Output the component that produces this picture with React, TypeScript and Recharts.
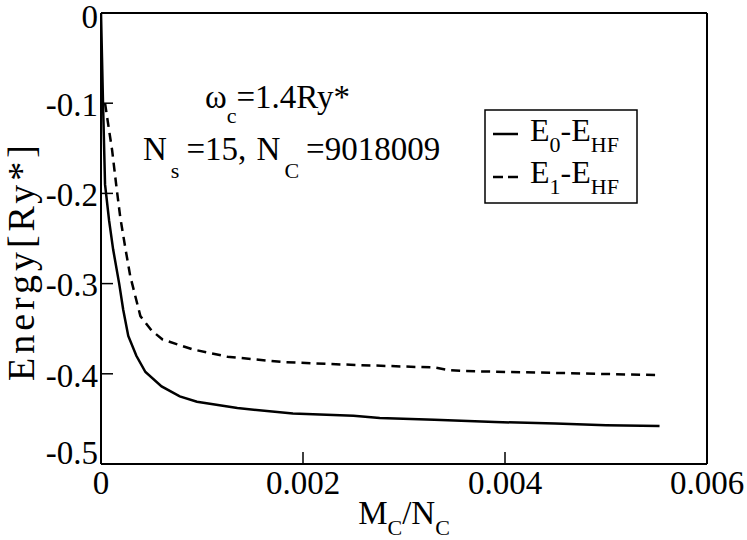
import { LineChart, Line, XAxis, YAxis } from 'recharts';

const X_MAJOR = [0, 0.002, 0.004, 0.006];
const X_MINOR = [0.001, 0.003, 0.005];
const Y_MAJOR = [0, -0.1, -0.2, -0.3, -0.4, -0.5];
const Y_MINOR = [-0.05, -0.15, -0.25, -0.35, -0.45];

// E0 - EHF (solid)
const E0_X = [0, 0.00001, 0.00002, 0.00004, 0.00008, 0.00012, 0.00018, 0.00022, 0.00027, 0.00035, 0.00044, 0.0006, 0.00078, 0.00095, 0.00135, 0.0019, 0.0025, 0.00276, 0.0033, 0.0039, 0.0045, 0.005, 0.00553];
const E0_Y = [0, -0.05, -0.1, -0.19, -0.23, -0.262, -0.3, -0.329, -0.358, -0.38, -0.398, -0.414, -0.425, -0.431, -0.438, -0.444, -0.4465, -0.449, -0.451, -0.4535, -0.455, -0.457, -0.458];

// E1 - EHF (dashed)
const E1_X = [0.00004, 0.00008, 0.00011, 0.00015, 0.00019, 0.00024, 0.00029, 0.00039, 0.0005, 0.00061, 0.00091, 0.00125, 0.0018, 0.00247, 0.0033, 0.00345, 0.0036, 0.0045, 0.00553];
const E1_Y = [-0.1, -0.13, -0.152, -0.19, -0.226, -0.26, -0.292, -0.336, -0.352, -0.362, -0.373, -0.381, -0.387, -0.39, -0.393, -0.396, -0.397, -0.399, -0.4015];

const e0 = E0_X.map((x, i) => ({ x, y: E0_Y[i] }));
const e1 = E1_X.map((x, i) => ({ x, y: E1_Y[i] }));

const FONT = '"Liberation Serif", "Times New Roman", serif';
const tickFont = { fontFamily: FONT, fontSize: 33, fill: '#000' };
const axisStroke = { stroke: '#000', strokeWidth: 2 };
const tickStroke = { stroke: '#000', strokeWidth: 1.5 };

function YTick(props: any) {
  const { x, y, payload } = props;
  const shift = payload.value === -0.5 ? -12 : payload.value === 0 ? 3 : 1;
  return (
    <text x={x} y={y + shift} dy="0.355em" textAnchor="end" {...tickFont} style={{ fontFamily: FONT }}>
      {String(payload.value)}
    </text>
  );
}

export default function App() {
  return (
    <div style={{ position: 'absolute', left: 0, top: 0, width: 747, height: 540, background: '#fff', fontFamily: FONT }}>
      <LineChart width={747} height={540} margin={{ left: 99, top: 11, right: 38, bottom: 74 }}>
        <XAxis xAxisId="b" dataKey="x" type="number" orientation="bottom" domain={[0, 0.006]} ticks={X_MAJOR}
          height={1} tickSize={-12} tickMargin={19} axisLine={axisStroke} tickLine={tickStroke} tick={tickFont}
          interval={0} allowDataOverflow />
        <XAxis xAxisId="bm" dataKey="x" type="number" orientation="bottom" domain={[0, 0.006]} ticks={X_MINOR}
          height={1} tickSize={-6} axisLine={false} tickLine={tickStroke} tick={false} interval={0} />
        <XAxis xAxisId="t" dataKey="x" type="number" orientation="top" domain={[0, 0.006]} ticks={X_MAJOR}
          height={1} tickSize={-12} axisLine={axisStroke} tickLine={tickStroke} tick={false} interval={0} />
        <XAxis xAxisId="tm" dataKey="x" type="number" orientation="top" domain={[0, 0.006]} ticks={X_MINOR}
          height={1} tickSize={-6} axisLine={false} tickLine={tickStroke} tick={false} interval={0} />
        <YAxis yAxisId="l" dataKey="y" type="number" orientation="left" domain={[-0.5, 0]} ticks={Y_MAJOR}
          width={1} tickSize={-12} tickMargin={15} axisLine={axisStroke} tickLine={tickStroke} tick={<YTick />}
          interval={0} allowDataOverflow />
        <YAxis yAxisId="lm" dataKey="y" type="number" orientation="left" domain={[-0.5, 0]} ticks={Y_MINOR}
          width={1} tickSize={-6} axisLine={false} tickLine={tickStroke} tick={false} interval={0} />
        <YAxis yAxisId="r" dataKey="y" type="number" orientation="right" domain={[-0.5, 0]} ticks={Y_MAJOR}
          width={1} tickSize={-12} axisLine={axisStroke} tickLine={tickStroke} tick={false} interval={0} />
        <YAxis yAxisId="rm" dataKey="y" type="number" orientation="right" domain={[-0.5, 0]} ticks={Y_MINOR}
          width={1} tickSize={-6} axisLine={false} tickLine={tickStroke} tick={false} interval={0} />
        <Line xAxisId="b" yAxisId="l" data={e0} dataKey="y" name="E0-EHF" type="linear" stroke="#000"
          strokeWidth={2.5} dot={false} isAnimationActive={false} />
        <Line xAxisId="b" yAxisId="l" data={e1} dataKey="y" name="E1-EHF" type="linear" stroke="#000"
          strokeWidth={2.5} strokeDasharray="9 6" dot={false} isAnimationActive={false} />
      </LineChart>
      <svg width={747} height={540} style={{ position: 'absolute', left: 0, top: 0, pointerEvents: 'none' }}
        fontFamily={FONT} fontSize={33}>
        <text x={205} y={108}>
          ω<tspan fontSize={22} dy={15}>c</tspan>
          <tspan dy={-15}>=1.4Ry*</tspan>
        </text>
        <text x={143} y={160}>
          N<tspan fontSize={22} dx={4} dy={18}>s</tspan>
          <tspan dx={7} dy={-18}>=15,</tspan>
          <tspan dx={2}> N</tspan>
          <tspan fontSize={22} dx={4} dy={18}>C</tspan>
          <tspan dx={7} dy={-18}>=9018009</tspan>
        </text>
        <text x={34} y={263} fontSize={38} textAnchor="middle" textLength={236} lengthAdjust="spacing"
          transform="rotate(-90 34 263)">Energy[Ry*]</text>
        <text x={404} y={524} textAnchor="middle">
          M<tspan fontSize={22} dy={11}>C</tspan>
          <tspan dy={-11}>/N</tspan>
          <tspan fontSize={22} dy={11}>C</tspan>
        </text>
        <g>
          <rect x={485} y={110} width={152} height={93} fill="#fff" stroke="#000" strokeWidth={1.5} />
          <line x1={493} x2={518} y1={134} y2={134} stroke="#000" strokeWidth={2.5} />
          <text x={530} y={141} fontSize={32}>
            E<tspan fontSize={22} dy={11}>0</tspan>
            <tspan dy={-11}>-E</tspan>
            <tspan fontSize={22} dy={11}>HF</tspan>
          </text>
          <line x1={493} x2={518} y1={177} y2={177} stroke="#000" strokeWidth={2.5} strokeDasharray="10 5" />
          <text x={530} y={183} fontSize={32}>
            E<tspan fontSize={22} dy={11}>1</tspan>
            <tspan dy={-11}>-E</tspan>
            <tspan fontSize={22} dy={11}>HF</tspan>
          </text>
        </g>
      </svg>
    </div>
  );
}
